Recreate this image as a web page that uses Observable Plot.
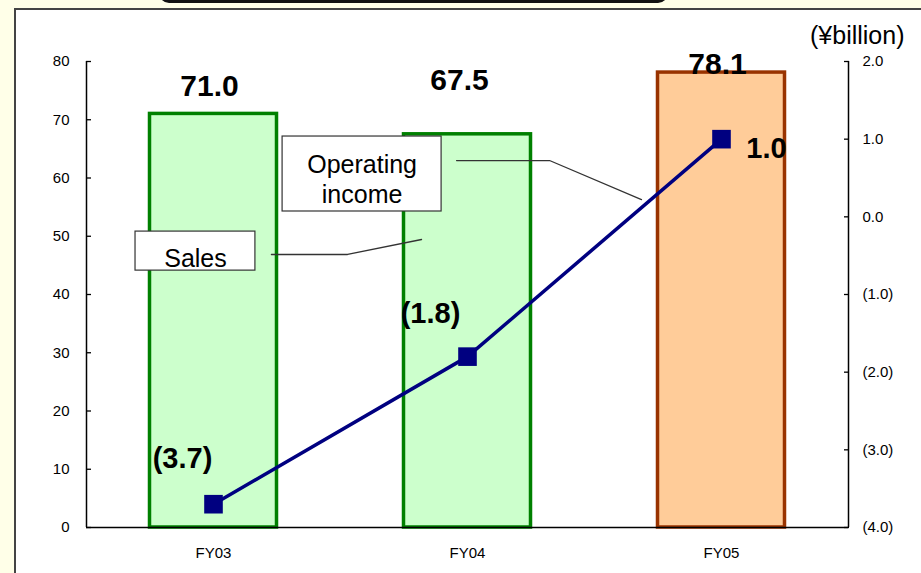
<!DOCTYPE html>
<html><head><meta charset="utf-8">
<script src="https://cdn.jsdelivr.net/npm/d3@7"></script>
<script src="https://cdn.jsdelivr.net/npm/@observablehq/plot@0.6"></script>
<style>
html,body{margin:0;padding:0;width:921px;height:573px;overflow:hidden;background:#FFFFE8;font-family:"Liberation Sans",Arial,sans-serif;}
#frame{position:absolute;left:14px;top:8px;width:907px;height:565px;background:#fff;border-left:2px solid #444;border-top:2px solid #444;box-sizing:border-box;}
#titlebox{position:absolute;left:159px;top:-30px;width:509px;height:33px;border:3px solid #111;border-radius:10px;box-sizing:border-box;background:#FFFFE8;}
#chart{position:absolute;left:15px;top:8px;}
</style></head>
<body>
<div id="frame"></div><div id="titlebox"></div><div id="chart"></div>
<script>
// ---- data ----
const categories = ["FY03", "FY04", "FY05"];
const sales = [71.0, 67.5, 78.1];
const operatingIncome = [-3.7, -1.8, 1.0];
const salesTicks = [0, 10, 20, 30, 40, 50, 60, 70, 80];
const incomeTicks = [2, 1, 0, -1, -2, -3, -4];
const incomeTickLabels = ["2.0", "1.0", "0.0", "(1.0)", "(2.0)", "(3.0)", "(4.0)"];
const salesLabels = ["71.0", "67.5", "78.1"];
const incomeLabels = ["(3.7)", "(1.8)", "1.0"];
const unitLabel = "(¥billion)";
const seriesNames = ["Sales", "Operating\nincome"];

// ---- layout / style ----
const salesMax = d3.max(salesTicks);
const incMin = d3.min(incomeTicks), incMax = d3.max(incomeTicks);
const toSales = v => (v - incMin) * salesMax / (incMax - incMin);
const incomeTickMap = new Map(incomeTicks.map((v, i) => [toSales(v), incomeTickLabels[i]]));

const fills = ["#CCFFCC", "#CCFFCC", "#FFCC99"];
const strokes = ["#008000", "#008000", "#993300"];
const rows = categories.map((c, i) => ({
  i, cat: c, sales: sales[i], income: operatingIncome[i], incomeY: toSales(operatingIncome[i]),
  fill: fills[i], stroke: strokes[i]
}));

const barLabelOffsets = [[-4, -18], [-8, -44], [-4, 1]];
const incLabelOffsets = [[-31, -36], [-37, -34], [45, 19]];

// callouts (in data units of the chart)
const opBox = {x1: 0.772, x2: 1.398, y1: 54.25, y2: 67.12};
const salesBox = {x1: 0.193, x2: 0.665, y1: 44.1, y2: 50.8};
const opLeader = [{x: 1.457, y: 63.0}, {x: 1.823, y: 63.0}, {x: 2.185, y: 56.3}];
const salesLeader = [{x: 0.728, y: 46.87}, {x: 1.028, y: 46.87}, {x: 1.319, y: 49.44}];

const font = "'Liberation Sans', Arial, sans-serif";

const chart = Plot.plot({
  width: 906, height: 565,
  marginLeft: 71, marginRight: 73, marginTop: 53, marginBottom: 46,
  style: {background: "transparent", fontFamily: font, fontSize: "15px", overflow: "visible"},
  x: {domain: [0, categories.length]},
  y: {domain: [0, salesMax]},
  color: {type: "identity"},
  marks: [
    Plot.rectY(rows, {x1: d => d.i + 0.25, x2: d => d.i + 0.75, y1: 0, y2: "sales",
      fill: "fill", stroke: "stroke", strokeWidth: 3.5}),
    Plot.rect([opBox, salesBox], {x1: "x1", x2: "x2", y1: "y1", y2: "y2", fill: "white", stroke: "#333", strokeWidth: 1.2}),
    Plot.line(opLeader, {x: "x", y: "y", stroke: "#333", strokeWidth: 1.3}),
    Plot.line(salesLeader, {x: "x", y: "y", stroke: "#333", strokeWidth: 1.3}),
    Plot.text([seriesNames[1]], {x: (opBox.x1 + opBox.x2) / 2, y: 60.0, text: d => d, fontSize: 25, lineHeight: 1.2, fill: "#000"}),
    Plot.text([seriesNames[0]], {x: (salesBox.x1 + salesBox.x2) / 2, y: 44.64, text: d => d, fontSize: 25, lineAnchor: "bottom", fill: "#000"}),
    Plot.ruleX([0, categories.length], {stroke: "#000", strokeWidth: 1.5}),
    Plot.ruleY([0], {stroke: "#000", strokeWidth: 1.5}),
    Plot.axisY(salesTicks, {anchor: "left", tickSize: -5, tickPadding: 22, fontSize: 15, strokeWidth: 1.3}),
    Plot.axisY(incomeTicks.map(toSales), {anchor: "right", tickSize: -5, tickPadding: 19, fontSize: 15, strokeWidth: 1.3,
      tickFormat: d => incomeTickMap.get(d)}),
    Plot.axisX(categories.map((c, i) => i + 0.5), {anchor: "bottom", tickSize: 0, tickPadding: 20, fontSize: 15,
      tickFormat: d => categories[Math.floor(d)]}),
    Plot.line(rows, {x: d => d.i + 0.5, y: "incomeY", stroke: "#000080", strokeWidth: 3.5}),
    Plot.dot(rows, {x: d => d.i + 0.5, y: "incomeY", symbol: "square", r: 10.5, fill: "#000080", stroke: "none"}),
    ...rows.map(d => Plot.text([d], {x: d.i + 0.5, y: d.sales, text: () => salesLabels[d.i],
      dx: barLabelOffsets[d.i][0], dy: barLabelOffsets[d.i][1], lineAnchor: "bottom",
      fontSize: 30, fontWeight: "bold", fill: "#000"})),
    ...rows.map(d => Plot.text([d], {x: d.i + 0.5, y: d.incomeY, text: () => incomeLabels[d.i],
      dx: incLabelOffsets[d.i][0], dy: incLabelOffsets[d.i][1], lineAnchor: "bottom",
      fontSize: 29, fontWeight: "bold", fill: "#000"})),
    Plot.text([unitLabel], {frameAnchor: "top-right", text: d => d, dx: 56, dy: -18, lineAnchor: "bottom", fontSize: 25, fill: "#000"})
  ]
});
document.getElementById("chart").appendChild(chart);
</script>
</body></html>
